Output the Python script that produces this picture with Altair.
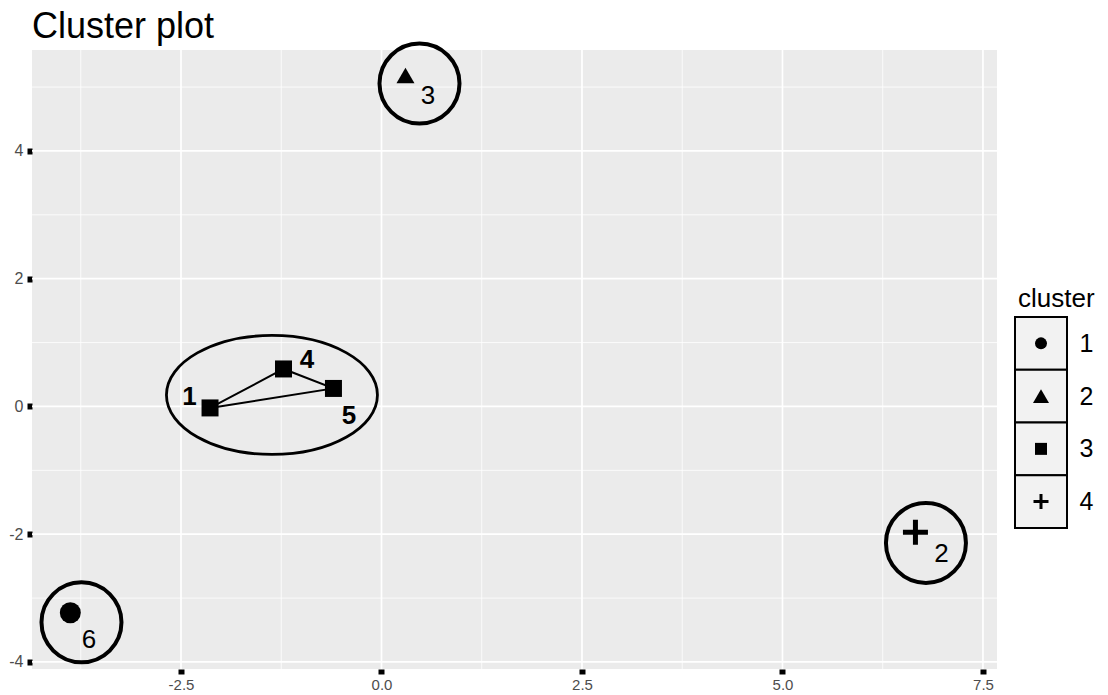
import altair as alt
import pandas as pd

FONT = "Liberation Sans"

# ---- data ----
obs = ["1", "2", "3", "4", "5", "6"]
obs_cluster = ["3", "4", "2", "3", "3", "1"]
dim1 = [-2.138, 6.658, 0.299, -1.222, -0.599, -3.880]
dim2 = [-0.023, -1.970, 5.180, 0.587, 0.282, -3.230]
label_x = [-2.394, 6.983, 0.580, -0.929, -0.405, -3.647]
label_y = [0.141, -2.316, 4.867, 0.728, -0.156, -3.662]

ring_cluster = ["1", "2", "4"]
ring_x = [-3.741, 0.474, 6.789]
ring_y = [-3.380, 5.055, -2.136]

ellipse_cluster = ["3"]
ellipse_x = [-1.366]
ellipse_y = [0.180]

hull_obs = ["1", "4", "5", "1"]

clusters = ["1", "2", "3", "4"]

x_major = [-2.5, 0.0, 2.5, 5.0, 7.5]
x_minor = [-3.75, -1.25, 1.25, 3.75, 6.25]
y_major = [-4, -2, 0, 2, 4]
y_minor = [-3, -1, 1, 3, 5]

PLUS = "M -1 -0.2 H -0.2 V -1 H 0.2 V -0.2 H 1 V 0.2 H 0.2 V 1 H -0.2 V 0.2 H -1 Z"
ELLIPSE = "M -1 0 A 1 0.564 0 1 1 1 0 A 1 0.564 0 1 1 -1 0 Z"

SHAPES = {"1": "circle", "2": "triangle-up", "3": "square", "4": PLUS}
MAIN_SIZE = {"1": 440, "2": 324, "3": 289, "4": 625}
LEG_SIZE = {"1": 144, "2": 256, "3": 144, "4": 225}

pts = pd.DataFrame({"obs": obs, "cluster": obs_cluster, "x": dim1, "y": dim2,
                    "lx": label_x, "ly": label_y})
rings = pd.DataFrame({"cluster": ring_cluster, "x": ring_x, "y": ring_y})
ell = pd.DataFrame({"cluster": ellipse_cluster, "x": ellipse_x, "y": ellipse_y})
idx = {o: i for i, o in enumerate(obs)}
hull = pd.DataFrame({"ord": list(range(len(hull_obs))),
                     "x": [dim1[idx[o]] for o in hull_obs],
                     "y": [dim2[idx[o]] for o in hull_obs]})

xs = alt.Scale(domain=[-4.358, 7.675], nice=False, zero=False)
ys = alt.Scale(domain=[-4.11, 5.58], nice=False, zero=False)

X_AXIS = alt.Axis(values=x_major, labelExpr="replace(format(datum.value, '.1f'), '\u2212', '-')",
                  grid=False, domain=False, title=None,
                  labelFontSize=15, labelColor="#4D4D4D", labelFont=FONT,
                  tickColor="black", tickSize=5, tickWidth=6, labelPadding=3)
Y_AXIS = alt.Axis(values=y_major, labelExpr="toString(datum.value)",
                  grid=False, domain=False, title=None,
                  labelFontSize=16, labelColor="#4D4D4D", labelFont=FONT,
                  tickColor="black", tickSize=5, tickWidth=6, labelPadding=4)


def X(f):
    return alt.X(f, type="quantitative", scale=xs, axis=X_AXIS)


def Y(f):
    return alt.Y(f, type="quantitative", scale=ys, axis=Y_AXIS)


gx_minor = alt.Chart(pd.DataFrame({"v": x_minor})).mark_rule(color="white", strokeWidth=0.8).encode(x=X("v"))
gx_major = alt.Chart(pd.DataFrame({"v": x_major})).mark_rule(color="white", strokeWidth=1.7).encode(x=X("v"))
gy_minor = alt.Chart(pd.DataFrame({"v": y_minor})).mark_rule(color="white", strokeWidth=0.8).encode(y=Y("v"))
gy_major = alt.Chart(pd.DataFrame({"v": y_major})).mark_rule(color="white", strokeWidth=1.7).encode(y=Y("v"))

ring_layer = alt.Chart(rings).mark_point(shape="circle", filled=False, color="black",
                                         strokeWidth=4, size=6400, opacity=1).encode(x=X("x"), y=Y("y"))
ell_layer = alt.Chart(ell).mark_point(shape=ELLIPSE, filled=False, color="black",
                                      strokeWidth=2.8, size=44521, opacity=1).encode(x=X("x"), y=Y("y"))
hull_layer = alt.Chart(hull).mark_line(color="black", strokeWidth=2).encode(
    x=X("x"), y=Y("y"), order="ord:Q")

pt_layers = [
    alt.Chart(pts).transform_filter(f"datum.cluster == '{c}'").mark_point(
        filled=True, opacity=1, color="black", strokeWidth=0,
        shape=SHAPES[c], size=MAIN_SIZE[c]).encode(x=X("x"), y=Y("y"))
    for c in clusters
]
lab_bold = alt.Chart(pts).transform_filter("datum.cluster == '3'").mark_text(
    fontSize=26, fontWeight="bold", font=FONT, color="black", baseline="middle", align="center").encode(
    x=X("lx"), y=Y("ly"), text="obs:N")
lab_norm = alt.Chart(pts).transform_filter("datum.cluster != '3'").mark_text(
    fontSize=26, fontWeight="normal", font=FONT, color="black", baseline="middle", align="center").encode(
    x=X("lx"), y=Y("ly"), text="obs:N")

main = alt.layer(gx_minor, gx_major, gy_minor, gy_major, ell_layer, ring_layer, hull_layer,
                 *pt_layers, lab_bold, lab_norm).properties(
    width=965, height=619, view=alt.ViewBackground(fill="#EBEBEB", strokeWidth=0))

# ---- legend panel ----
leg = pd.DataFrame({"cluster": clusters})
lys = alt.Scale(domain=[-4.5616, 7.173], reverse=True, nice=False, zero=False)
LEG_AXIS = alt.Axis(orient="right", values=[1, 2, 3, 4], format="d", grid=False, domain=False,
                    ticks=False, title=None, labelFontSize=25, labelColor="black", labelFont=FONT,
                    labelPadding=12)
boxes = alt.Chart(leg).transform_calculate(
    y0="toNumber(datum.cluster) - 0.5", y1="toNumber(datum.cluster) + 0.5").mark_rect(
    fill="#F2F2F2", stroke="black", strokeWidth=2).encode(
    y=alt.Y("y0:Q", scale=lys, axis=LEG_AXIS), y2="y1:Q")
sym_layers = [
    alt.Chart(leg).transform_filter(f"datum.cluster == '{c}'").transform_calculate(
        k="toNumber(datum.cluster)").mark_point(
        filled=True, opacity=1, color="black", strokeWidth=0,
        shape=SHAPES[c], size=LEG_SIZE[c]).encode(y=alt.Y("k:Q", scale=lys, axis=LEG_AXIS))
    for c in clusters
]
leg_title = alt.Chart(pd.DataFrame({"t": ["cluster"]})).mark_text(
    fontSize=26, font=FONT, color="black", align="left", baseline="alphabetic").encode(
    text="t:N", x=alt.value(3), y=alt.value(257))
legend = alt.layer(boxes, *sym_layers, leg_title).properties(
    width=52, height=619, view=alt.ViewBackground(fillOpacity=0, strokeWidth=0))

chart = alt.hconcat(main, legend, spacing=18, bounds="flush").properties(
    title=alt.Title("Cluster plot", anchor="start", fontSize=36, font=FONT, color="black",
                    fontWeight="normal", offset=-10, frame="group"),
    padding={"left": 0, "top": 0, "right": 0, "bottom": 0},
).configure(font=FONT).configure_view(strokeWidth=0)

chart.save("out.html", embed_options={"renderer": "svg", "actions": False})
